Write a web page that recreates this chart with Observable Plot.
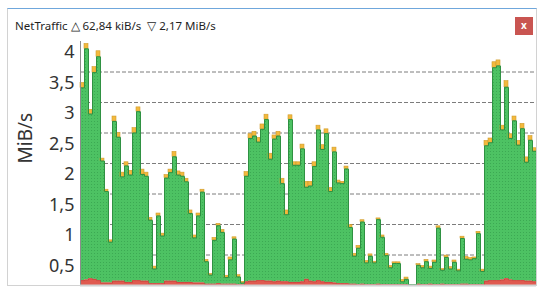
<!DOCTYPE html>
<html><head><meta charset="utf-8">
<script src="https://cdn.jsdelivr.net/npm/d3@7"></script>
<script src="https://cdn.jsdelivr.net/npm/@observablehq/plot@0.6"></script>
<style>
html,body{margin:0;padding:0;background:#fff;}
#wrap{position:relative;width:541px;height:292px;overflow:hidden;font-family:"Noto Sans",sans-serif;}
#chart{position:absolute;left:0;top:0;}
#frame{position:absolute;left:7px;top:8px;width:528px;height:276px;border:1px solid #d2d2d2;border-top:1px solid #6fa7dc;}
#title{position:absolute;left:15px;top:18px;font-size:11.5px;color:#1e1e1e;white-space:pre;line-height:16px;}
#close{position:absolute;left:515px;top:17px;width:18px;height:18px;background:#c95551;color:#fff;font-size:10px;font-weight:bold;line-height:17px;text-align:center;}
</style></head><body>
<div id="wrap"><div id="chart"></div><div id="frame"></div><div id="title">NetTraffic △ 62,84 kiB/s  ▽ 2,17 MiB/s</div><div id="close">x</div></div>
<script>
// total height of each sample (top of the orange cap), MiB/s
const totals = [3.32,3.96,2.88,3.58,3.84,2.08,1.57,0.74,2.77,2.50,
 1.85,2.02,1.88,2.58,2.92,1.90,1.85,1.11,0.31,1.18,
 0.85,1.81,1.90,2.19,1.87,1.85,1.75,1.23,0.82,1.18,
 1.57,0.42,0.19,0.78,1.01,0.91,0.16,0.46,0.79,0.17,
 0.06,1.86,2.48,2.52,2.42,2.64,2.80,2.16,2.46,2.52,
 1.75,1.23,2.79,2.02,2.02,2.31,1.70,1.70,2.02,2.62,
 2.30,2.56,1.60,2.26,1.72,1.70,1.95,0.99,0.52,0.65,
 1.07,0.40,0.51,0.39,1.10,0.82,0.52,0.32,0.38,0.38,
 0.09,0.13,0.01,0.01,0.35,0.32,0.42,0.31,0.41,0.97,
 0.27,0.49,0.30,0.41,0.26,0.80,0.47,0.45,0.46,0.88,
 0.26,2.37,2.41,3.66,3.69,2.62,3.35,2.48,2.77,2.37,
 2.65,2.10,2.45,2.25];
// orange cap thickness
const caps = [0.08,0.08,0.07,0.09,0.09,0.04,0.03,0.03,0.08,0.07,
 0.07,0.06,0.07,0.08,0.07,0.08,0.06,0.04,0.04,0.04,
 0.04,0.05,0.05,0.08,0.06,0.06,0.05,0.05,0.04,0.04,
 0.04,0.03,0.02,0.04,0.03,0.04,0.03,0.04,0.03,0.03,
 0.02,0.07,0.07,0.07,0.07,0.08,0.08,0.09,0.06,0.07,
 0.08,0.07,0.07,0.05,0.05,0.07,0.09,0.07,0.07,0.07,
 0.07,0.07,0.06,0.07,0.04,0.03,0.04,0.04,0.04,0.04,
 0.03,0.03,0.03,0.02,0.02,0.03,0.03,0.03,0.02,0.02,
 0.03,0.03,0,0,0.02,0.03,0.03,0.03,0.03,0.03,
 0.02,0.03,0.03,0.03,0.02,0.03,0.04,0.03,0.02,0.03,
 0.03,0.08,0.07,0.09,0.09,0.07,0.10,0.07,0.07,0.07,
 0.08,0.08,0.07,0.05];
// upload (red, bottom)
const upload = [0.08,0.09,0.11,0.10,0.08,0.04,0.04,0.04,0.07,0.07,
 0.07,0.05,0.05,0.08,0.08,0.07,0.07,0.03,0.03,0.03,
 0.03,0.07,0.07,0.07,0.05,0.05,0.05,0.05,0.04,0.04,
 0.04,0.02,0.02,0.02,0.03,0.02,0.02,0.02,0.02,0.01,
 0.01,0.06,0.07,0.07,0.08,0.08,0.07,0.07,0.06,0.07,
 0.06,0.06,0.05,0.05,0.05,0.06,0.10,0.07,0.06,0.08,
 0.06,0.05,0.05,0.04,0.03,0.03,0.03,0.02,0.02,0.01,
 0.02,0.01,0.01,0.01,0.02,0.01,0.01,0.01,0.01,0.01,
 0.01,0.01,0,0,0.02,0.01,0.01,0.02,0.01,0.01,
 0.02,0.01,0.01,0.01,0.01,0.02,0.02,0.01,0.01,0.01,
 0.01,0.07,0.08,0.08,0.08,0.09,0.11,0.09,0.08,0.08,
 0.08,0.07,0.07,0.06];
const yTicks = [0.5,1,1.5,2,2.5,3,3.5,4];
const yTickLabels = ["0,5","1","1,5","2","2,5","3","3,5","4"];
const gridValues = [0.5,1,1.5,2,2.5,3,3.5];
const yLabel = "MiB/s";

const n = totals.length;
const rows = totals.map((t,i)=>({i, i2: i+1, up: upload[i], gTop: t - caps[i], top: t}));
const outline = rows.map(r=>({x:r.i, y:r.gTop}));
outline.push({x:n, y:rows[n-1].gTop});
const upOutline = rows.map(r=>({x:r.i, y:r.up}));
upOutline.push({x:n, y:rows[n-1].up});

const chart = Plot.plot({
  width: 541, height: 292,
  marginLeft: 80, marginRight: 5, marginTop: 41, marginBottom: 7,
  style: {fontFamily: "'Noto Sans', sans-serif", background: "transparent"},
  x: {domain: [0, n], axis: null},
  y: {domain: [0, 4], axis: null, label: null},
  marks: [
    Plot.ruleY(gridValues, {stroke: "#7c7c7c", strokeDasharray: "4,2"}),
    Plot.rectY(rows, {x1: "i", x2: "i2", y1: "up", y2: "gTop", fill: "url(#dots)"}),
    Plot.rectY(rows, {x1: "i", x2: "i2", y1: "gTop", y2: "top", fill: "#f3b93d", stroke: "#cf9c2c", strokeWidth: 0.6}),
    Plot.rectY(rows, {x1: "i", x2: "i2", y1: 0, y2: "up", fill: "#e05a50"}),
    Plot.lineY(upOutline, {x: "x", y: "y", curve: "step-after", stroke: "#c8443c", strokeWidth: 0.8}),
    Plot.lineY(outline, {x: "x", y: "y", curve: "step-after", stroke: "#2f9142", strokeWidth: 1}),
    Plot.ruleX([0], {stroke: "#8c8c8c"}),
    Plot.ruleY([0], {stroke: "#cfcfcf", strokeWidth: 2}),
    Plot.axisY(yTicks, {tickSize: 0, tickPadding: 6, label: null,
      tickFormat: d => yTickLabels[yTicks.indexOf(d)], fontSize: 18, dy: 11, color: "#333"}),
    Plot.text([yLabel], {text: d => d, frameAnchor: "left", dx: -55, rotate: -90, fontSize: 19, fill: "#333"})
  ]
});
const ns = "http://www.w3.org/2000/svg";
const defs = document.createElementNS(ns, "defs");
defs.innerHTML = '<pattern id="dots" width="3" height="3" patternUnits="userSpaceOnUse"><rect width="3" height="3" fill="#4dc263"/><rect x="1" y="1" width="1" height="1" fill="#3ca953"/></pattern>';
chart.insertBefore(defs, chart.firstChild);
document.getElementById("chart").appendChild(chart);
</script>
</body></html>
